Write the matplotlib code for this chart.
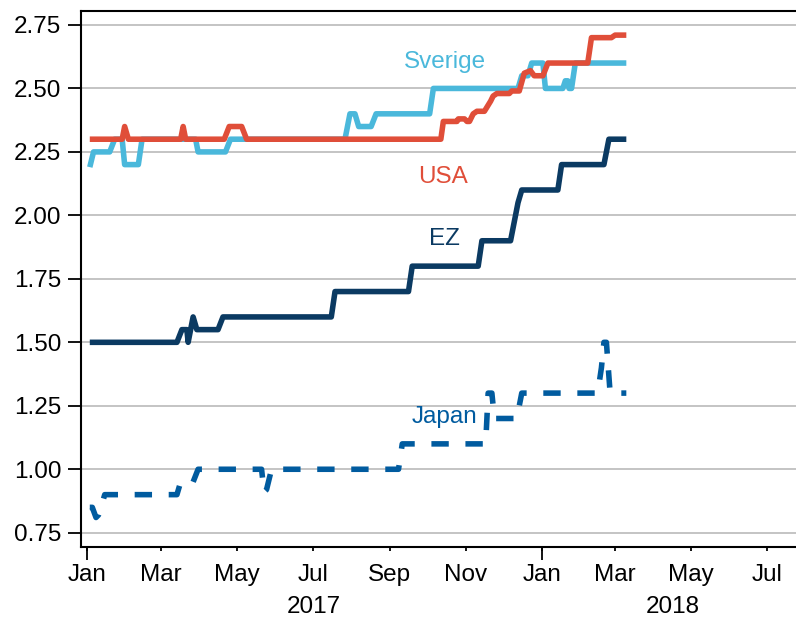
import matplotlib
matplotlib.use("Agg")
import matplotlib.pyplot as plt
import matplotlib.dates as mdates
import matplotlib.transforms as mtransforms
import pandas as pd

plt.rcParams['font.family'] = ['Liberation Sans', 'DejaVu Sans']
plt.rcParams['lines.scale_dashes'] = False

# ---------------- data ----------------
sverige_dates = ["2017-01-03", "2017-01-06", "2017-01-19", "2017-01-23", "2017-01-29", "2017-01-31",
                 "2017-02-11", "2017-02-14", "2017-03-29", "2017-03-31", "2017-04-22", "2017-04-26",
                 "2017-07-27", "2017-07-31", "2017-08-04", "2017-08-07", "2017-08-17", "2017-08-21",
                 "2017-10-03", "2017-10-06", "2017-12-13", "2017-12-16", "2017-12-21", "2017-12-24",
                 "2018-01-02", "2018-01-04", "2018-01-18", "2018-01-20", "2018-01-22", "2018-01-23",
                 "2018-01-25", "2018-01-28", "2018-03-10"]
sverige_vals = [2.19, 2.25, 2.25, 2.30, 2.30, 2.20,
                2.20, 2.30, 2.30, 2.25, 2.25, 2.30,
                2.30, 2.40, 2.40, 2.35, 2.35, 2.40,
                2.40, 2.50, 2.50, 2.55, 2.55, 2.60,
                2.60, 2.50, 2.50, 2.53, 2.53, 2.50,
                2.50, 2.60, 2.60]

usa_dates = ["2017-01-03", "2017-01-29", "2017-01-31", "2017-02-03", "2017-03-17", "2017-03-19",
             "2017-03-21", "2017-04-21", "2017-04-25", "2017-05-05", "2017-05-09", "2017-10-12",
             "2017-10-14", "2017-10-25", "2017-10-26", "2017-10-31", "2017-11-02", "2017-11-04",
             "2017-11-07", "2017-11-10", "2017-11-16", "2017-11-21", "2017-11-23", "2017-11-26",
             "2017-12-06", "2017-12-08", "2017-12-14", "2017-12-18", "2017-12-23", "2017-12-26",
             "2018-01-02", "2018-01-06", "2018-02-07", "2018-02-10", "2018-02-26", "2018-03-01",
             "2018-03-10"]
usa_vals = [2.30, 2.30, 2.35, 2.30, 2.30, 2.35,
            2.30, 2.30, 2.35, 2.35, 2.30, 2.30,
            2.37, 2.37, 2.38, 2.38, 2.37, 2.37,
            2.40, 2.41, 2.41, 2.45, 2.47, 2.48,
            2.48, 2.49, 2.49, 2.56, 2.57, 2.55,
            2.55, 2.60, 2.60, 2.70, 2.70, 2.71,
            2.71]

ez_dates = ["2017-01-03", "2017-03-14", "2017-03-18", "2017-03-22", "2017-03-23", "2017-03-27",
            "2017-03-30", "2017-04-16", "2017-04-20", "2017-07-16", "2017-07-19", "2017-09-16",
            "2017-09-19", "2017-11-11", "2017-11-14", "2017-12-07", "2017-12-09", "2017-12-11",
            "2017-12-13", "2017-12-16", "2018-01-14", "2018-01-17", "2018-02-20", "2018-02-24",
            "2018-03-10"]
ez_vals = [1.50, 1.50, 1.55, 1.55, 1.50, 1.60,
           1.55, 1.55, 1.60, 1.60, 1.70, 1.70,
           1.80, 1.80, 1.90, 1.90, 1.95, 2.00,
           2.05, 2.10, 2.10, 2.20, 2.20, 2.30,
           2.30]

japan_dates = ["2017-01-03", "2017-01-05", "2017-01-08", "2017-01-10", "2017-01-12", "2017-01-15",
               "2017-03-14", "2017-03-17", "2017-03-27", "2017-03-31", "2017-05-21", "2017-05-23",
               "2017-05-25", "2017-05-29", "2017-09-08", "2017-09-11", "2017-11-17", "2017-11-19",
               "2017-11-22", "2017-11-24", "2017-12-12", "2017-12-16", "2018-02-15", "2018-02-18",
               "2018-02-20", "2018-02-22", "2018-02-25", "2018-03-10"]
japan_vals = [0.85, 0.85, 0.81, 0.82, 0.85, 0.90,
              0.90, 0.95, 0.95, 1.00, 1.00, 0.91,
              0.92, 1.00, 1.00, 1.10, 1.10, 1.30,
              1.30, 1.20, 1.20, 1.30, 1.30, 1.40,
              1.50, 1.50, 1.30, 1.30]

series_names = ["Sverige", "USA", "EZ", "Japan"]
yticks = [0.75, 1.00, 1.25, 1.50, 1.75, 2.00, 2.25, 2.50, 2.75]
year_labels = ["2017", "2018"]

# ---------------- styles ----------------
c_sve = '#4AB8DB'
c_usa = '#E04E39'
c_ez = '#0B3A62'
c_jap = '#005B9F'

fig = plt.figure(figsize=(7.96, 6.19), dpi=100)
ax = fig.add_axes([81 / 796, (619 - 546.7) / 619, 1 - 81 / 796, (546.7 - 11) / 619])

lw = 4.0
ax.plot(pd.to_datetime(sverige_dates), sverige_vals, color=c_sve, lw=lw,
        solid_joinstyle='round', solid_capstyle='butt', zorder=3)
ax.plot(pd.to_datetime(usa_dates), usa_vals, color=c_usa, lw=lw,
        solid_joinstyle='round', solid_capstyle='butt', zorder=4)
ax.plot(pd.to_datetime(ez_dates), ez_vals, color=c_ez, lw=lw,
        solid_joinstyle='round', solid_capstyle='butt', zorder=3)
ax.plot(pd.to_datetime(japan_dates), japan_vals, color=c_jap, lw=lw,
        dashes=(12.5, 12.0), dash_capstyle='butt', dash_joinstyle='round', zorder=3)

# series labels
fs = 17.5
ax.text(pd.Timestamp("2017-10-15"), 2.579, series_names[0], color=c_sve, fontsize=fs,
        ha='center', va='baseline')
ax.text(pd.Timestamp("2017-10-14"), 2.126, series_names[1], color=c_usa, fontsize=fs,
        ha='center', va='baseline')
ax.text(pd.Timestamp("2017-10-15"), 1.883, series_names[2], color=c_ez, fontsize=fs,
        ha='center', va='baseline')
ax.text(pd.Timestamp("2017-10-15"), 1.183, series_names[3], color=c_jap, fontsize=fs,
        ha='center', va='baseline')

# axes limits
x0 = mdates.date2num(pd.Timestamp("2017-01-01"))
ax.set_xlim(x0 - 5.06, x0 + 569.3)
ax.set_ylim(0.695, 2.805)

# y axis
ax.set_yticks(yticks)
ax.set_yticklabels([f"{v:.2f}" for v in yticks])
ax.yaxis.grid(True, color='#C4C4C4', lw=1.4)
ax.set_axisbelow(True)
ax.tick_params(axis='y', length=9.3, width=1.3, pad=5, labelsize=fs, color='black')

# x axis
ax.xaxis.set_major_locator(mdates.MonthLocator(bymonth=[1, 3, 5, 7, 9, 11]))
ax.xaxis.set_major_formatter(mdates.DateFormatter('%b'))
ax.xaxis.set_minor_locator(mdates.MonthLocator(bymonth=[1]))
ax.xaxis.remove_overlapping_locs = False
ax.tick_params(axis='x', which='major', length=3, width=1.3, pad=9.5, labelsize=fs)
ax.tick_params(axis='x', which='minor', length=9, width=1.3)

trans = mtransforms.blended_transform_factory(ax.transData, ax.transAxes)
ax.text(pd.Timestamp("2017-07-02"), -0.112, year_labels[0], transform=trans,
        ha='center', va='center', fontsize=fs)
ax.text(pd.Timestamp("2018-04-16"), -0.112, year_labels[1], transform=trans,
        ha='center', va='center', fontsize=fs)

for s in ['left', 'bottom', 'top']:
    ax.spines[s].set_linewidth(1.5)
    ax.spines[s].set_color('black')
ax.spines['right'].set_visible(False)

fig.savefig("out.png", dpi=100)
